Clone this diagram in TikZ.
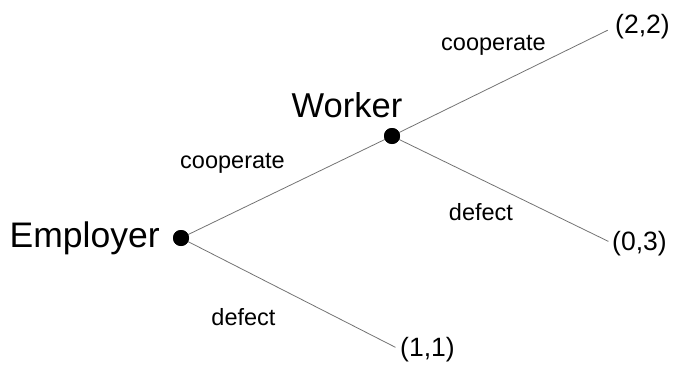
\documentclass[tikz,border=0pt]{standalone}
\usepackage{fontspec}
\setmainfont{Liberation Sans}
\begin{document}
\begin{tikzpicture}[x=1pt,y=-1pt,
  dotnode/.style={circle,fill=black,inner sep=0pt,minimum size=16pt},
  player/.style={inner sep=0pt,font=\fontsize{35.5}{40}\selectfont},
  payoff/.style={inner sep=0pt,font=\fontsize{26.5}{30}\selectfont},
  movelabel/.style={inner sep=0pt,font=\fontsize{23.5}{27}\selectfont},
  branch/.style={draw=black!55,line width=0.8pt}]
\useasboundingbox (0,0) rectangle (679,369);
\node[dotnode] (e) at (181,238) {};
\node[dotnode] (w) at (392,136) {};
\node[player,anchor=base west] (elab) at (9.5,247) {Employer};
\node[player,anchor=base west,font=\fontsize{34.5}{40}\selectfont] (wlab) at (291.5,117) {Worker};
\node[payoff,anchor=base west] (p22) at (615,33.5) {(2,2)};
\node[payoff,anchor=base west] (p03) at (612,250) {(0,3)};
\node[payoff,anchor=base west] (p11) at (400,356.5) {(1,1)};
\node[movelabel,anchor=base] (c1) at (232.5,168) {cooperate};
\node[movelabel,anchor=base] (c2) at (493.5,50) {cooperate};
\node[movelabel,anchor=base] (d1) at (481,220) {defect};
\node[movelabel,anchor=base] (d2) at (243.5,325) {defect};
\draw[branch] (e.center) -- (w.center);
\draw[branch,shorten >=8pt] (w.center) -- (p22.west);
\draw[branch,shorten >=4pt] (w.center) -- (p03.west);
\draw[branch,shorten >=5pt] (e.center) -- (p11.west);
\node[dotnode] at (e) {};
\node[dotnode] at (w) {};
\end{tikzpicture}
\end{document}
